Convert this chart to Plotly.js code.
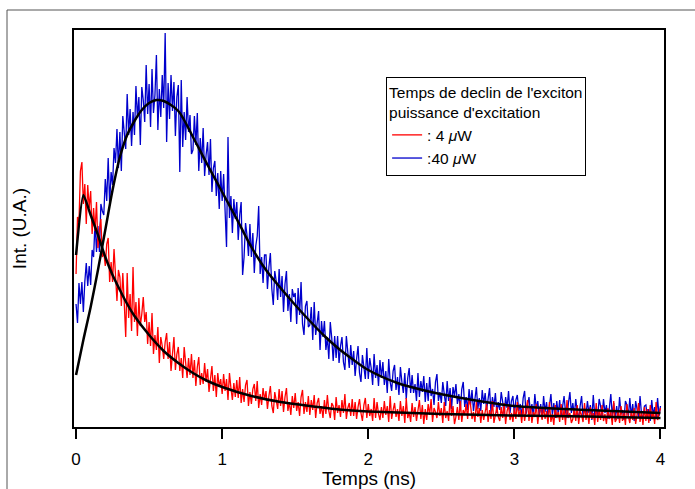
<!DOCTYPE html>
<html><head><meta charset="utf-8">
<script src="https://cdn.plot.ly/plotly-3.0.1.min.js"></script>
<style>html,body{margin:0;padding:0;background:#fff}</style>
</head><body>
<div id="chart" style="width:695px;height:489px"></div>
<script>
// time sampling of the measured traces (ns)
const tStart = 0;
const tStep = 0.01;

// measured intensity, 4 uW excitation (a.u.)
const red4uW = [
153,210,205,256,265,223,243,203,242,219,
236,193,219,196,225,179,197,208,170,175,
161,183,189,145,165,145,178,143,126,157,
150,121,154,124,90,154,109,133,96,160,
105,125,91,129,101,113,130,105,115,83,
105,81,114,73,92,77,100,64,90,81,
68,85,94,68,85,56,74,90,57,73,
80,56,69,49,80,63,49,69,52,73,
49,67,41,60,70,42,54,43,64,45,
58,35,51,61,36,52,30,54,40,48,
33,53,36,48,27,54,39,27,44,30,
47,29,50,24,38,25,42,47,21,35,
23,38,43,26,46,19,33,22,39,27,
36,18,31,41,21,14,35,28,18,38,
21,36,15,30,39,16,25,12,31,19,
34,16,25,11,30,37,13,25,15,31,
12,27,17,32,9,24,29,13,21,9,
27,13,32,16,9,24,21,7,30,14,
22,10,27,14,33,8,19,24,11,28,
11,25,8,20,28,14,6,22,29,9,
23,11,18,6,29,9,25,13,7,20,
9,26,12,21,5,31,8,17,24,10,
18,6,26,11,21,4,29,9,15,5,
24,10,20,6,16,27,8,22,3,18,
7,23,12,28,5,19,15,9,25,11,
19,4,25,9,16,6,29,11,21,3,
10,20,7,26,5,17,12,23,8,28,
22,8,15,5,25,10,19,4,17,7,
15,23,5,17,8,26,4,13,20,10,
6,20,9,24,3,16,22,7,14,5,
19,8,25,10,17,4,21,6,15,27,
6,21,4,15,10,23,3,17,19,7,
20,8,16,3,25,5,13,2,22,9,
15,5,23,7,18,2,27,9,14,4,
8,19,6,22,3,16,12,5,24,7,
16,3,20,8,14,2,24,5,17,7,
22,6,13,3,19,8,15,2,26,5,
8,17,4,21,6,14,2,23,11,4,
15,7,19,3,13,24,5,16,2,20,
6,18,4,22,8,15,3,25,7,14,19
];

// measured intensity, 40 uW excitation (a.u.)
const blue40uW = [
123,104,144,123,145,115,145,164,141,161,
142,177,170,205,175,201,175,223,216,212,
248,226,269,223,255,242,279,264,298,259,
295,256,311,295,278,333,292,318,281,315,
292,341,309,330,282,340,327,305,362,313,
343,300,358,314,332,372,297,338,310,352,
319,394,285,344,308,352,316,345,291,330,
342,255,347,280,315,287,330,295,312,273,
277,311,282,314,256,289,264,299,251,272,
285,252,288,235,259,266,231,254,218,256,
226,253,212,180,290,209,231,194,228,208,
225,187,212,225,152,170,204,192,171,203,
170,194,154,181,191,221,153,170,144,172,
172,138,160,174,138,122,156,146,127,158,
130,151,115,143,156,116,133,105,138,130,
134,103,139,112,145,103,92,121,126,100,
102,120,87,125,92,106,116,77,106,90,
106,77,90,68,105,89,66,91,69,91,
64,81,90,65,57,91,73,59,82,62,
76,51,68,81,54,45,72,61,48,79,
48,69,59,42,73,49,62,41,67,49,
65,42,56,34,68,45,36,56,62,37,
50,32,60,45,34,54,28,49,59,34,
52,34,43,26,54,30,46,35,51,25,
44,26,50,31,38,22,45,53,26,35,
24,45,34,21,46,26,39,18,40,31,
43,23,33,17,38,45,20,30,17,38,
22,37,16,32,40,18,29,16,37,23,
34,17,28,39,14,30,20,34,14,25,
17,35,25,12,30,19,36,14,26,31,
12,27,32,16,23,10,29,36,13,23,
30,14,23,10,33,18,26,11,23,8,
31,15,25,10,21,33,12,24,9,26,
13,27,10,21,31,15,9,24,35,14,
24,11,28,15,8,21,31,10,19,12,
26,14,22,7,32,11,19,9,28,21,
10,28,14,22,8,19,33,11,24,7,
21,8,30,13,17,7,26,22,10,29,
11,23,6,26,18,9,31,13,7,21,
22,10,18,6,27,12,20,8,29,11,21
];

// fitted decay curves
const fitRedX = [0,0.05,0.1,0.15,0.2,0.25,0.3,0.35,0.4,0.5,0.6,0.7,0.8,0.9,1.0,1.2,1.4,1.6,1.8,2.0,2.5,3.0,3.5,4.0];
const fitRedY = [172,232,212,192,170,152,137,123,111,92,76,64,54,46,40,31,25,21,17.5,15.5,13,11.5,10.5,9];
const fitBlueX = [0,0.05,0.1,0.15,0.2,0.25,0.3,0.35,0.4,0.45,0.5,0.55,0.6,0.7,0.8,0.9,1.0,1.1,1.2,1.3,1.4,1.5,1.6,1.7,1.8,1.9,2.0,2.2,2.4,2.6,2.8,3.0,3.5,4.0];
const fitBlueY = [52,87,120,157,197,237,270,292,306,317,324,327,326,316,290,262,235,208,180,157,139,122,106,91,78,67,57,44,36,30,25,21,17,14];

const xTickVals = [0,1,2,3,4];
const xTickText = ["0","1","2","3","4"];
const legendTitle = "Temps de declin de l'exciton<br>puissance d'excitation";
const nameRed = ": 4 <i>μ</i>W";
const nameBlue = ":40 <i>μ</i>W";

const FONT = "Liberation Sans, Arial, Helvetica, sans-serif";

const traces = [
  {type:'scatter', mode:'lines', name:nameRed, x0:tStart, dx:tStep, y:red4uW,
   line:{color:'#ff0000', width:1.3}, legendrank:1},
  {type:'scatter', mode:'lines', name:nameBlue, x0:tStart, dx:tStep, y:blue40uW,
   line:{color:'#0000cc', width:1.3}, legendrank:2},
  {type:'scatter', mode:'lines', x:fitBlueX, y:fitBlueY, showlegend:false,
   line:{color:'#000', width:2.5, shape:'spline', smoothing:0.8}},
  {type:'scatter', mode:'lines', x:fitRedX, y:fitRedY, showlegend:false,
   line:{color:'#000', width:2.5, shape:'spline', smoothing:0.5}}
];
// draw blue under red
const ordered = [traces[1], traces[0], traces[2], traces[3]];

const layout = {
  width:695, height:489,
  margin:{l:74, r:31, t:30, b:62, pad:0},
  paper_bgcolor:'#fff', plot_bgcolor:'#fff',
  font:{family:FONT, color:'#000', size:15},
  showlegend:true,
  xaxis:{
    range:[-0.014, 4.024], showgrid:false, zeroline:false,
    showline:true, linecolor:'#000', linewidth:2, mirror:true,
    ticks:'outside', ticklen:10, tickwidth:2, tickcolor:'#000',
    tickvals:xTickVals, ticktext:xTickText, ticklabelstandoff:6,
    tickfont:{family:FONT, size:17, color:'#000'},
    title:{text:'Temps (ns)', font:{family:FONT, size:19, color:'#000'}, standoff:5}
  },
  yaxis:{
    range:[0, 397], showgrid:false, zeroline:false,
    showline:true, linecolor:'#000', linewidth:2, mirror:true,
    ticks:'', showticklabels:false,
    title:{text:'Int. (U.A.)', font:{family:FONT, size:19, color:'#000'}, standoff:40}
  },
  legend:{
    x:0.529, y:0.8816, xanchor:'left', yanchor:'top',
    bgcolor:'#fff', bordercolor:'#000', borderwidth:1,
    font:{family:FONT, size:15.5, color:'#000'},
    title:{text:legendTitle, font:{family:FONT, size:15.5, color:'#000'}},
    traceorder:'normal', tracegroupgap:0
  },
  shapes:[
    {type:'rect', xref:'paper', yref:'paper',
     x0:(7-74)/590, x1:(720-74)/590, y0:(427-520)/397, y1:(427-10)/397,
     line:{color:'#555', width:1}, fillcolor:'rgba(0,0,0,0)', layer:'below'}
  ]
};

Plotly.newPlot('chart', ordered, layout, {staticPlot:true, displayModeBar:false});
</script>
</body></html>
